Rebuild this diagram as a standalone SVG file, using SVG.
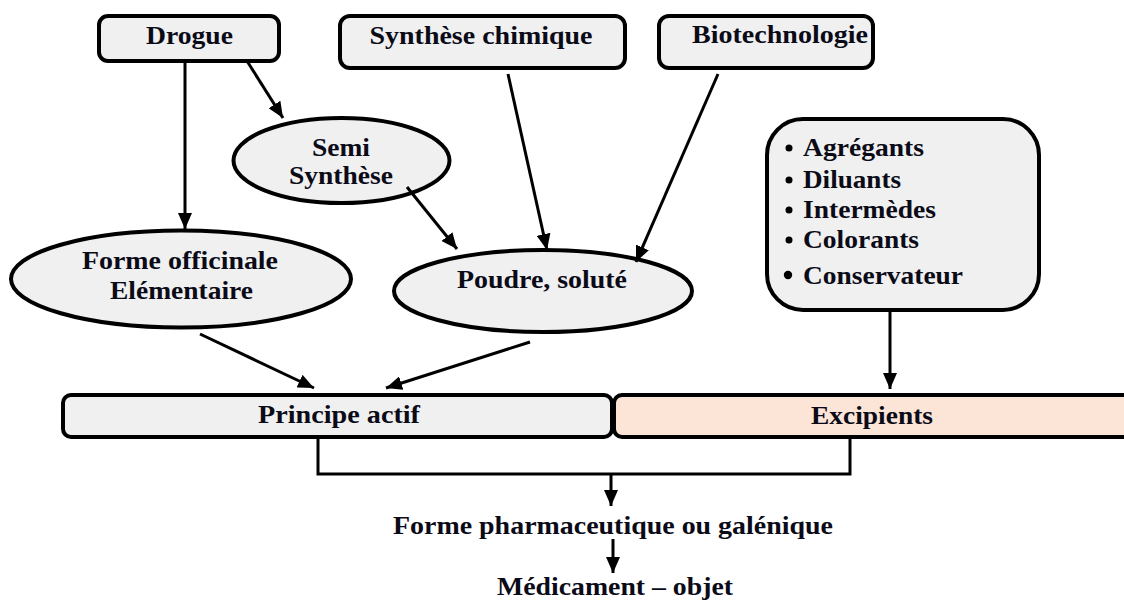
<svg xmlns="http://www.w3.org/2000/svg" width="1124" height="601" viewBox="0 0 1124 601">
<style>
.box{fill:#f0f0f0;stroke:#000;stroke-width:4}
.exc{fill:#fce4d6;stroke:#000;stroke-width:4}
.t{font-family:"Liberation Serif","Times New Roman",serif;font-weight:bold;font-size:26px;fill:#0b0b18}
.c{text-anchor:middle}
.ln{stroke:#000;stroke-width:3;fill:none}
.ar{marker-end:url(#ah)}
</style>
<defs>
<marker id="ah" viewBox="0 0 16 14" refX="16" refY="7" markerWidth="16" markerHeight="14" orient="auto" markerUnits="userSpaceOnUse">
<path d="M0,0 L16,7 L0,14 z" fill="#000"/>
</marker>
</defs>
<rect width="1124" height="601" fill="#fff"/>

<g id="drogue">
<rect class="box" x="99" y="16" width="180" height="45" rx="9"/>
<text class="t c" x="189.5" y="44" textLength="87" lengthAdjust="spacingAndGlyphs">Drogue</text>
</g>
<g id="synthese-chimique">
<rect class="box" x="340" y="16" width="285" height="52" rx="10"/>
<text class="t c" x="481" y="44" textLength="223" lengthAdjust="spacingAndGlyphs">Synthèse chimique</text>
</g>
<g id="biotechnologie">
<rect class="box" x="659" y="16" width="214" height="52" rx="10"/>
<text class="t c" x="780" y="43" textLength="176" lengthAdjust="spacingAndGlyphs">Biotechnologie</text>
</g>
<g id="semi-synthese">
<ellipse class="box" cx="341.5" cy="160.5" rx="108" ry="42.5"/>
<text class="t c" x="341" y="156" textLength="58" lengthAdjust="spacingAndGlyphs">Semi</text>
<text class="t c" x="341" y="184" textLength="104" lengthAdjust="spacingAndGlyphs">Synthèse</text>
</g>
<g id="forme-officinale">
<ellipse class="box" cx="181" cy="279" rx="170" ry="48.5"/>
<text class="t c" x="180" y="269" textLength="196" lengthAdjust="spacingAndGlyphs">Forme officinale</text>
<text class="t c" x="181.5" y="299" textLength="143" lengthAdjust="spacingAndGlyphs">Elémentaire</text>
</g>
<g id="poudre">
<ellipse class="box" cx="543" cy="291" rx="149" ry="41"/>
<text class="t c" x="542" y="288" textLength="170" lengthAdjust="spacingAndGlyphs">Poudre, soluté</text>
</g>
<g id="liste-excipients">
<rect class="box" x="767" y="119" width="272" height="191" rx="36"/>
<circle cx="789" cy="148" r="3.5" fill="#000"/>
<text class="t" x="803" y="156" textLength="121" lengthAdjust="spacingAndGlyphs">Agrégants</text>
<circle cx="789" cy="180" r="3.5" fill="#000"/>
<text class="t" x="803" y="188" textLength="98" lengthAdjust="spacingAndGlyphs">Diluants</text>
<circle cx="789" cy="210" r="3.5" fill="#000"/>
<text class="t" x="803" y="218" textLength="133" lengthAdjust="spacingAndGlyphs">Intermèdes</text>
<circle cx="789" cy="240" r="3.5" fill="#000"/>
<text class="t" x="803" y="248" textLength="116" lengthAdjust="spacingAndGlyphs">Colorants</text>
<circle cx="788" cy="275" r="4.2" fill="#000"/>
<text class="t" x="803" y="284" textLength="160" lengthAdjust="spacingAndGlyphs">Conservateur</text>
</g>
<g id="principe-actif">
<rect class="box" x="63" y="395" width="549" height="42" rx="8"/>
<text class="t c" x="339" y="423" textLength="162" lengthAdjust="spacingAndGlyphs">Principe actif</text>
</g>
<g id="excipients">
<rect class="exc" x="614" y="395" width="520" height="42" rx="8"/>
<text class="t c" x="872" y="424" textLength="122" lengthAdjust="spacingAndGlyphs">Excipients</text>
</g>
<g id="forme-pharmaceutique">
<text class="t c" x="613" y="534" textLength="440" lengthAdjust="spacingAndGlyphs">Forme pharmaceutique ou galénique</text>
</g>
<g id="medicament">
<text class="t c" x="615" y="595" textLength="236" lengthAdjust="spacingAndGlyphs">Médicament – objet</text>
</g>

<g id="connectors">
<line class="ln ar" x1="185" y1="61" x2="185" y2="229"/>
<line class="ln ar" x1="247" y1="61" x2="283" y2="118"/>
<line class="ln ar" x1="407" y1="187" x2="457" y2="249"/>
<line class="ln ar" x1="508" y1="74" x2="547" y2="250"/>
<line class="ln ar" x1="718" y1="74" x2="636" y2="262"/>
<line class="ln ar" x1="200" y1="334" x2="314" y2="388"/>
<line class="ln ar" x1="530" y1="342" x2="386" y2="388"/>
<line class="ln ar" x1="890" y1="310" x2="890" y2="389"/>
<polyline class="ln" points="318,437 318,474 850,474 850,437"/>
<line class="ln ar" x1="611" y1="474" x2="611" y2="506"/>
<line class="ln ar" x1="613" y1="539" x2="613" y2="573"/>
</g>
</svg>
